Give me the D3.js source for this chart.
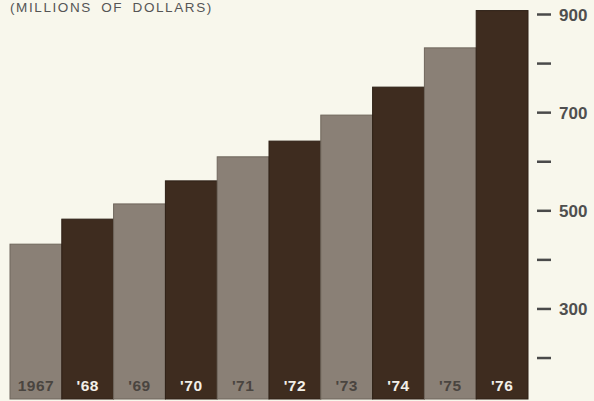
<!DOCTYPE html>
<html>
<head>
<meta charset="utf-8">
<script src="https://cdn.jsdelivr.net/npm/d3@7"></script>
<style>
  html, body { margin: 0; padding: 0; background: #f8f7ec; }
  svg { display: block; }
</style>
</head>
<body>
<svg id="chart" width="594" height="401"></svg>
<script>
// Annual values, millions of dollars
const years = ["1967", "'68", "'69", "'70", "'71", "'72", "'73", "'74", "'75", "'76"];
const values = [432, 483, 514, 561, 610, 642, 695, 752, 832, 908];
const majorTicks = [300, 500, 700, 900];
const minorTicks = [200, 400, 600, 800];
const title = "(MILLIONS OF DOLLARS)";

const W = 594, H = 401;
const svg = d3.select("#chart");

const plotLeft = 10, plotRight = 528, plotBottom = 399;

const x = d3.scaleBand()
  .domain(years)
  .range([plotLeft, plotRight])
  .padding(0);

const y = d3.scaleLinear()
  .domain([100, 900])
  .range([407.1, 14.5]);

const lightFill = "#8a8076";
const darkFill = "#3e2c1f";

// Bars, alternating light and dark
svg.append("g")
  .selectAll("rect")
  .data(values)
  .join("rect")
  .attr("x", (d, i) => x(years[i]))
  .attr("width", x.bandwidth())
  .attr("y", d => y(d))
  .attr("height", d => plotBottom - y(d))
  .attr("fill", (d, i) => i % 2 === 0 ? lightFill : darkFill)
  .attr("stroke", (d, i) => i % 2 === 0 ? "#6f665c" : "#2e2016")
  .attr("stroke-width", 1);

// Year labels inside the bars
svg.append("g")
  .selectAll("text")
  .data(years)
  .join("text")
  .attr("x", d => x(d) + x.bandwidth() / 2)
  .attr("y", 391)
  .attr("text-anchor", "middle")
  .attr("font-family", "Liberation Sans, Arial, sans-serif")
  .attr("font-weight", "bold")
  .attr("font-size", 15.5)
  .attr("letter-spacing", 0.5)
  .attr("fill", (d, i) => i % 2 === 0 ? "#4a4540" : "#f2efe8")
  .text(d => d);

// Right-hand axis: dash ticks with labels on the major values
const axis = svg.append("g");
axis.selectAll("line")
  .data(majorTicks.concat(minorTicks))
  .join("line")
  .attr("x1", 537).attr("x2", 551)
  .attr("y1", d => y(d)).attr("y2", d => y(d))
  .attr("stroke", "#4a4a4a")
  .attr("stroke-width", 2.5);

axis.selectAll("text")
  .data(majorTicks)
  .join("text")
  .attr("x", 559)
  .attr("y", d => y(d))
  .attr("dy", "0.36em")
  .attr("font-family", "Liberation Sans, Arial, sans-serif")
  .attr("font-weight", "bold")
  .attr("font-size", 17)
  .attr("fill", "#4f4f4f")
  .text(d => d);

// Units caption at top left
svg.append("text")
  .attr("x", 10)
  .attr("y", 12)
  .attr("font-family", "Liberation Sans, Arial, sans-serif")
  .attr("font-size", 13.5)
  .attr("letter-spacing", 1.6)
  .attr("word-spacing", 4)
  .attr("fill", "#555")
  .text(title);
</script>
</body>
</html>
